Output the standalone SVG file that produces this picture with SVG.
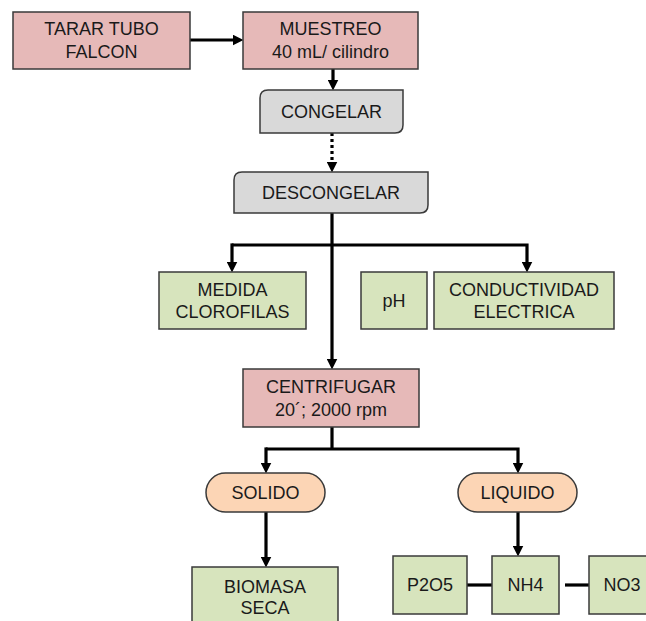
<svg xmlns="http://www.w3.org/2000/svg" width="646" height="621" viewBox="0 0 646 621">
<defs>
<marker id="arr" viewBox="0 0 10 10" refX="5" refY="5" markerWidth="11" markerHeight="11" markerUnits="userSpaceOnUse" orient="auto">
<path d="M0,0 L10,5 L0,10 z" fill="#000"/>
</marker>
<style>
.box{stroke:#3a3a3a;stroke-width:1.5}
.pink{fill:#e6b9b8}
.gray{fill:#d9d9d9}
.green{fill:#d7e4bd}
.orange{fill:#fcd5b5}
text{font-family:"Liberation Sans",Arial,sans-serif;font-size:18px;fill:#1a1a1a;text-anchor:middle}
.c{fill:none;stroke:#000;stroke-width:3.2}
</style>
</defs>
<rect width="646" height="621" fill="#fff"/>
<g id="connectors">
<line class="c" x1="190" y1="40" x2="238" y2="40" marker-end="url(#arr)"/>
<line class="c" x1="333" y1="69" x2="333" y2="85" marker-end="url(#arr)"/>
<line class="c" x1="332" y1="133" x2="332" y2="167" stroke-dasharray="3 3" marker-end="url(#arr)"/>
<line class="c" x1="332" y1="213" x2="332" y2="364" marker-end="url(#arr)"/>
<polyline class="c" points="232,245 527,245 527,267" marker-end="url(#arr)"/>
<line class="c" x1="232" y1="243.4" x2="232" y2="267" marker-end="url(#arr)"/>
<line class="c" x1="332" y1="427" x2="332" y2="449"/>
<polyline class="c" points="266,449 518,449 518,468" marker-end="url(#arr)"/>
<line class="c" x1="266" y1="447.4" x2="266" y2="468" marker-end="url(#arr)"/>
<line class="c" x1="266" y1="512" x2="266" y2="562" marker-end="url(#arr)"/>
<line class="c" x1="518" y1="512" x2="518" y2="551" marker-end="url(#arr)"/>
<line class="c" x1="467" y1="585" x2="492" y2="585"/>
<line class="c" x1="565" y1="585" x2="589" y2="585"/>
</g>
<g id="tarar">
<rect class="box pink" x="13" y="12" width="177" height="57"/>
<text x="101.5" y="35">TARAR TUBO</text>
<text x="101.5" y="58">FALCON</text>
</g>
<g id="muestreo">
<rect class="box pink" x="243" y="12" width="175" height="57"/>
<text x="330.5" y="35">MUESTREO</text>
<text x="330.5" y="58">40 mL/ cilindro</text>
</g>
<g id="congelar">
<path class="box gray" d="M268,90 H403 V125 Q403,133 395,133 H260 V98 Q260,90 268,90 Z"/>
<text x="331.5" y="118">CONGELAR</text>
</g>
<g id="descongelar">
<path class="box gray" d="M242,172 H428 V205 Q428,213 420,213 H234 V180 Q234,172 242,172 Z"/>
<text x="331" y="198.5">DESCONGELAR</text>
</g>
<g id="medida">
<rect class="box green" x="159" y="272" width="147" height="57"/>
<text x="232.5" y="296">MEDIDA</text>
<text x="232.5" y="318">CLOROFILAS</text>
</g>
<g id="ph">
<rect class="box green" x="361" y="272" width="66" height="57"/>
<text x="394" y="307">pH</text>
</g>
<g id="conductividad">
<rect class="box green" x="434" y="272" width="180" height="57"/>
<text x="524" y="296">CONDUCTIVIDAD</text>
<text x="524" y="318">ELECTRICA</text>
</g>
<g id="centrifugar">
<rect class="box pink" x="243" y="369" width="176" height="58"/>
<text x="331" y="393">CENTRIFUGAR</text>
<text x="331" y="416">20´; 2000 rpm</text>
</g>
<g id="solido">
<rect class="box orange" x="206" y="473" width="119" height="39" rx="19.5" ry="19.5"/>
<text x="265.5" y="499">SOLIDO</text>
</g>
<g id="liquido">
<rect class="box orange" x="458" y="473" width="119" height="39" rx="19.5" ry="19.5"/>
<text x="517.5" y="499">LIQUIDO</text>
</g>
<g id="biomasa">
<rect class="box green" x="192" y="567" width="146" height="58"/>
<text x="265" y="593">BIOMASA</text>
<text x="265" y="614">SECA</text>
</g>
<g id="p2o5">
<rect class="box green" x="393" y="556" width="74" height="58"/>
<text x="430" y="591">P2O5</text>
</g>
<g id="nh4">
<rect class="box green" x="492" y="556" width="67" height="58"/>
<text x="525.5" y="591">NH4</text>
</g>
<g id="no3">
<rect class="box green" x="589" y="556" width="67" height="58"/>
<text x="622" y="591">NO3</text>
</g>
</svg>
